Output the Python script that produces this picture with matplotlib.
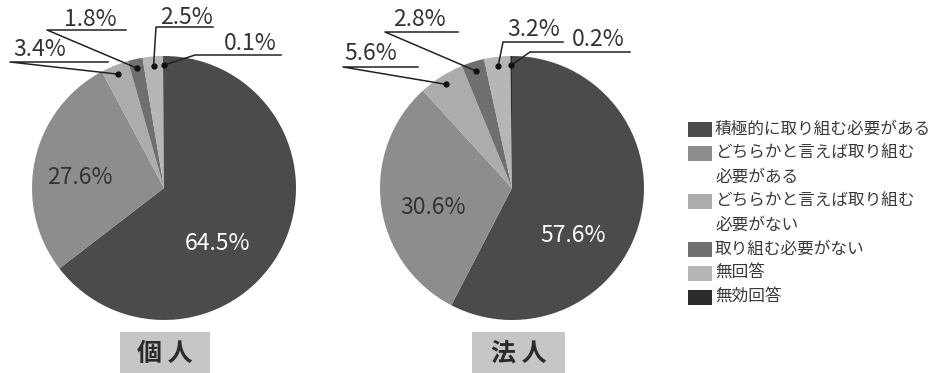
import numpy as np
import matplotlib
matplotlib.use('Agg')
import matplotlib.pyplot as plt
from matplotlib.patches import Rectangle

plt.rcParams['font.family'] = ['Noto Sans CJK JP', 'DejaVu Sans']

# data
categories = ['積極的に取り組む必要がある',
              'どちらかと言えば取り組む\n必要がある',
              'どちらかと言えば取り組む\n必要がない',
              '取り組む必要がない',
              '無回答',
              '無効回答']
kojin = [64.5, 27.6, 3.4, 1.8, 2.5, 0.1]
hojin = [57.6, 30.6, 5.6, 2.8, 3.2, 0.2]
titles = ['個 人', '法 人']
colors = ['#4b4b4b', '#8d8d8d', '#acacac', '#6f6f6f', '#b6b6b6', '#2c2c2c']

W, H = 935, 373
fig = plt.figure(figsize=(W / 100, H / 100), dpi=100)
ax = fig.add_axes([0, 0, 1, 1])

def Y(py):
    return H - py

R = 132
centers = [(164, Y(188)), (512, Y(188))]

# outer label layout: (text x, text y, underline x0, x1, underline y) in pixels
outer_1 = [None, None,
           (40, 50, 10, 108, 62),
           (90, 20, 47, 126, 30),
           (186, 17, 156, 213, 27),
           (250, 44, 195, 281, 55)]
outer_2 = [None, None,
           (371, 54, 343, 418, 67),
           (419, 19, 385, 458, 32),
           (534, 29, 503, 563, 42),
           (598, 40, 530, 630, 52)]
inner_1 = [(218, 243, 'white'), (80, 177, '#333333')]
inner_2 = [(573, 235, 'white'), (433, 208, '#333333')]

for vals, c, outer, inner in [(kojin, centers[0], outer_1, inner_1),
                              (hojin, centers[1], outer_2, inner_2)]:
    wedges, _ = ax.pie(vals, colors=colors, startangle=90, counterclock=False,
                       center=c, radius=R, wedgeprops=dict(linewidth=0))
    for i, w in enumerate(wedges):
        lab = f'{vals[i]:.1f}%'
        if i < 2:
            tx, ty, col = inner[i]
            ax.text(tx, Y(ty), lab, ha='center', va='center', fontsize=16.5, color=col)
            continue
        tx, ty, x0, x1, uy = outer[i]
        mid = np.deg2rad((w.theta1 + w.theta2) / 2)
        dx = c[0] + 0.93 * R * np.cos(mid)
        dy = c[1] + 0.93 * R * np.sin(mid)
        ax.plot([dx, x0, x1], [dy, Y(uy), Y(uy)], color='#222222', lw=1.1)
        ax.plot(dx, dy, 'o', color='#111111', ms=3.5)
        ax.text(tx, Y(ty), lab, ha='center', va='center', fontsize=16.5, color='#333333')

# title boxes
for (bx0, bx1), title in zip([(120, 210), (472, 565)], titles):
    ax.add_patch(Rectangle((bx0, 0), bx1 - bx0, Y(332), facecolor='#c6c6c6', edgecolor='none'))
    ax.text((bx0 + bx1) / 2, Y(354), title, ha='center', va='center', fontsize=18,
            fontweight='bold', color='#2a2a2a')

# legend
row_y = 129
for lab, col in zip(categories, colors):
    ax.add_patch(Rectangle((688, Y(row_y + 7.5)), 24, 15, facecolor=col, edgecolor='none'))
    for line in lab.split('\n'):
        ax.text(715, Y(row_y), line, ha='left', va='center', fontsize=12, color='#3a3a3a')
        row_y += 24

ax.set_xlim(0, W)
ax.set_ylim(0, H)
ax.set_aspect('equal')
ax.axis('off')

fig.savefig('out.png', dpi=100, facecolor='white')
